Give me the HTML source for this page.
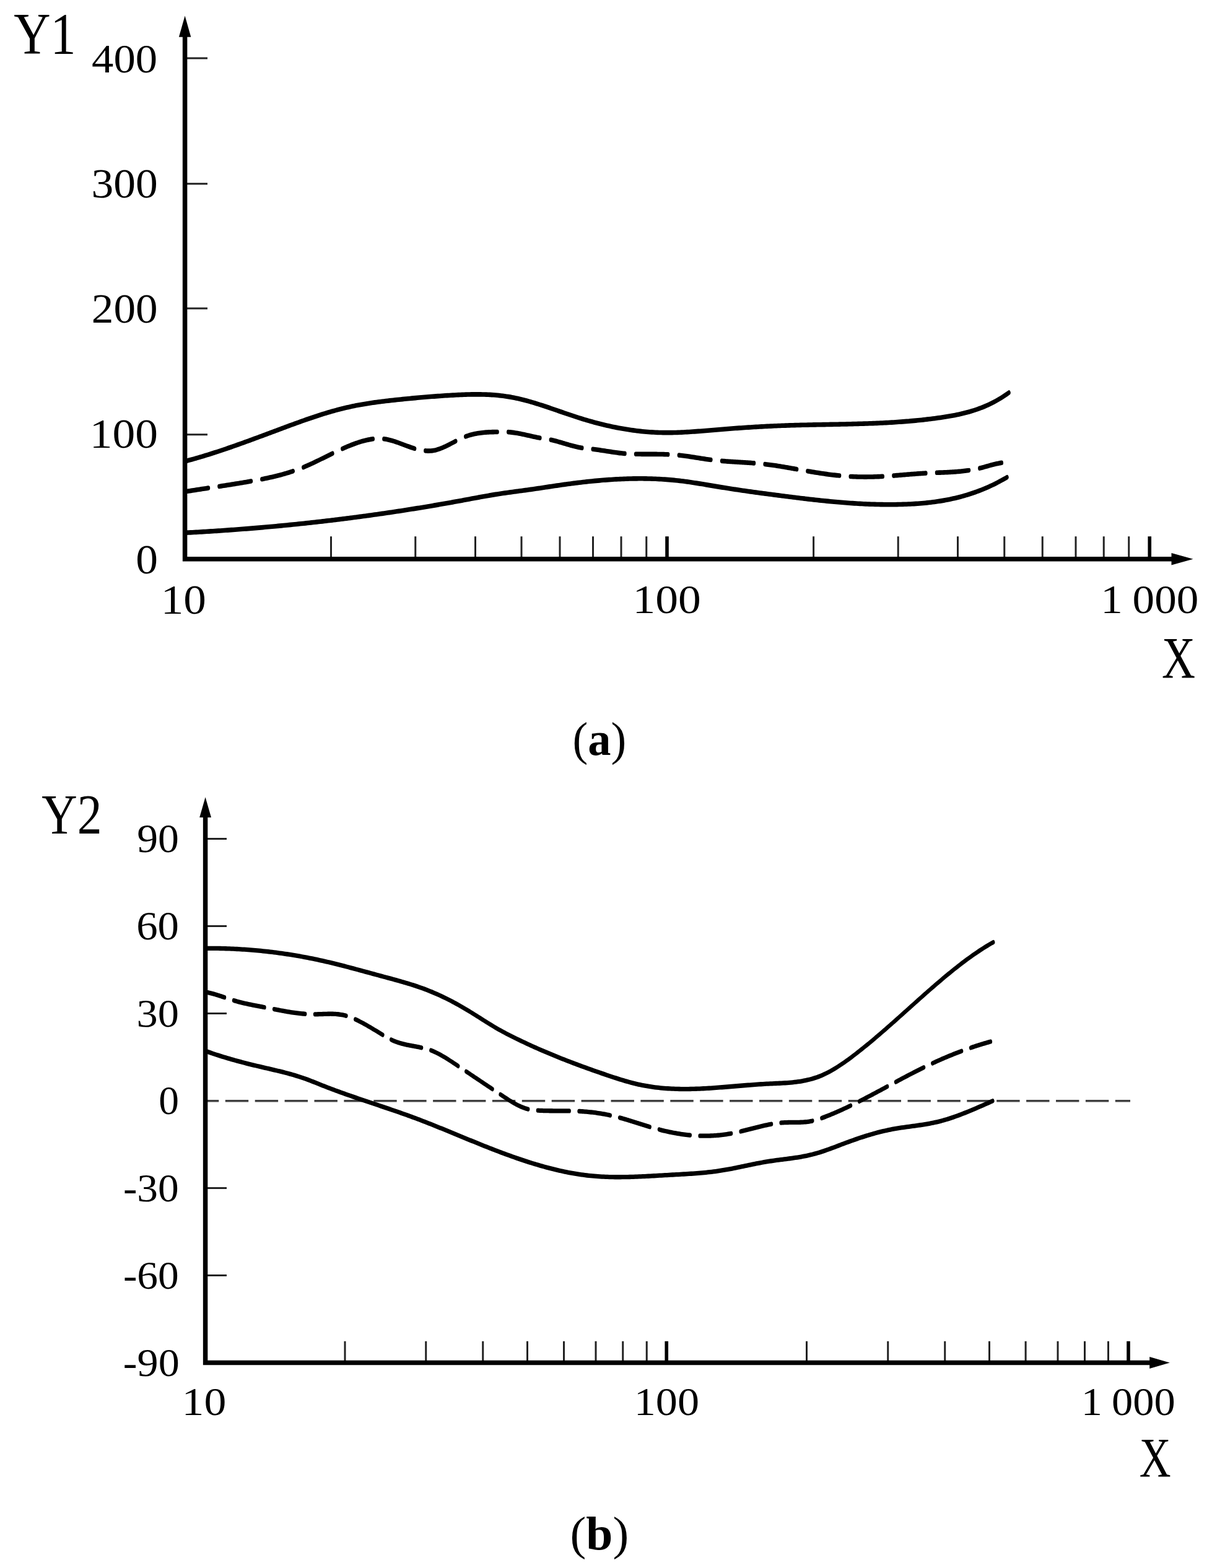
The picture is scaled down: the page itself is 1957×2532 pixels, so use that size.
<!DOCTYPE html>
<html lang="en"><head><meta charset="utf-8"><title>Figure: Y1 and Y2 versus X</title>
<style>html,body{margin:0;padding:0;background:#fff}body{width:1957px;height:2532px;overflow:hidden}svg{display:block}text{font-family:"Liberation Serif","DejaVu Serif",serif;fill:#000}</style></head><body>
<svg width="1957" height="2532" viewBox="0 0 1957 2532" role="img" aria-label="Two line charts, (a) Y1 versus X and (b) Y2 versus X, logarithmic X axis from 10 to 1 000">
<rect width="1957" height="2532" fill="#fff"/>
<defs><filter id="bl" x="-5%" y="-5%" width="110%" height="110%"><feGaussianBlur stdDeviation="0.70"/></filter></defs>
<g filter="url(#bl)">
<g id="chart-a">
<g stroke="#222" stroke-width="3.00" fill="none"><path d="M298.60,93.90 H335.00"/><path d="M298.60,296.75 H335.00"/><path d="M298.60,498.00 H335.00"/><path d="M298.60,701.75 H335.00"/><path d="M534.50,866.20 V902.70"/><path d="M670.75,866.20 V902.70"/><path d="M767.50,866.20 V902.70"/><path d="M842.00,866.20 V902.70"/><path d="M904.00,866.20 V902.70"/><path d="M957.50,866.20 V902.70"/><path d="M1003.00,866.20 V902.70"/><path d="M1043.75,866.20 V902.70"/><path stroke="#000" stroke-width="5.60" d="M1077.00,866.20 V902.70"/><path d="M1313.60,866.20 V902.70"/><path d="M1450.20,866.20 V902.70"/><path d="M1546.50,866.20 V902.70"/><path d="M1621.75,866.20 V902.70"/><path d="M1683.25,866.20 V902.70"/><path d="M1737.00,866.20 V902.70"/><path d="M1782.25,866.20 V902.70"/><path d="M1822.75,866.20 V902.70"/><path stroke="#000" stroke-width="5.60" d="M1856.25,866.20 V902.70"/></g>
<g transform="scale(1,1.400)" stroke="#000" fill="none" stroke-linecap="round" stroke-linejoin="round"><path d="M298.6,532.093 L301.6,531.530 L304.6,530.958 L307.6,530.376 L310.6,529.784 L313.6,529.183 L316.6,528.572 L319.6,527.953 L322.6,527.325 L325.6,526.688 L328.6,526.043 L331.6,525.390 L334.6,524.729 L337.6,524.060 L340.6,523.384 L343.6,522.701 L346.7,522.010 L349.7,521.313 L352.7,520.609 L355.7,519.899 L358.7,519.182 L361.7,518.460 L364.7,517.732 L367.7,516.998 L370.7,516.260 L373.7,515.516 L376.7,514.767 L379.7,514.013 L382.7,513.255 L385.7,512.493 L388.7,511.727 L391.7,510.957 L394.7,510.183 L397.7,509.406 L400.7,508.626 L403.7,507.843 L406.7,507.057 L409.7,506.269 L412.7,505.478 L415.7,504.686 L418.7,503.891 L421.7,503.095 L424.7,502.298 L427.7,501.499 L430.7,500.699 L433.7,499.898 L436.7,499.097 L439.7,498.296 L442.8,497.494 L445.8,496.692 L448.8,495.891 L451.8,495.090 L454.8,494.290 L457.8,493.492 L460.8,492.694 L463.8,491.899 L466.8,491.106 L469.8,490.316 L472.8,489.530 L475.8,488.747 L478.8,487.968 L481.8,487.193 L484.8,486.424 L487.8,485.660 L490.8,484.902 L493.8,484.150 L496.8,483.405 L499.8,482.667 L502.8,481.936 L505.8,481.213 L508.8,480.499 L511.8,479.794 L514.8,479.097 L517.8,478.411 L520.8,477.734 L523.8,477.068 L526.8,476.413 L529.8,475.769 L532.8,475.137 L535.8,474.518 L538.9,473.910 L541.9,473.316 L544.9,472.736 L547.9,472.169 L550.9,471.616 L553.9,471.079 L556.9,470.556 L559.9,470.049 L562.9,469.558 L565.9,469.084 L568.9,468.626 L571.9,468.183 L574.9,467.757 L577.9,467.345 L580.9,466.947 L583.9,466.563 L586.9,466.191 L589.9,465.833 L592.9,465.487 L595.9,465.152 L598.9,464.828 L601.9,464.514 L604.9,464.210 L607.9,463.915 L610.9,463.629 L613.9,463.351 L616.9,463.081 L619.9,462.818 L622.9,462.561 L625.9,462.310 L628.9,462.065 L632.0,461.824 L635.0,461.588 L638.0,461.355 L641.0,461.126 L644.0,460.899 L647.0,460.676 L650.0,460.455 L653.0,460.238 L656.0,460.023 L659.0,459.812 L662.0,459.604 L665.0,459.399 L668.0,459.197 L671.0,458.999 L674.0,458.803 L677.0,458.612 L680.0,458.423 L683.0,458.238 L686.0,458.057 L689.0,457.879 L692.0,457.704 L695.0,457.534 L698.0,457.367 L701.0,457.203 L704.0,457.043 L707.0,456.887 L710.0,456.735 L713.0,456.586 L716.0,456.442 L719.0,456.301 L722.0,456.165 L725.0,456.032 L728.1,455.903 L731.1,455.779 L734.1,455.659 L737.1,455.545 L740.1,455.438 L743.1,455.338 L746.1,455.245 L749.1,455.162 L752.1,455.087 L755.1,455.022 L758.1,454.968 L761.1,454.926 L764.1,454.896 L767.1,454.879 L770.1,454.875 L773.1,454.885 L776.1,454.911 L779.1,454.953 L782.1,455.010 L785.1,455.086 L788.1,455.179 L791.1,455.291 L794.1,455.422 L797.1,455.573 L800.1,455.745 L803.1,455.939 L806.1,456.155 L809.1,456.394 L812.1,456.656 L815.1,456.943 L818.1,457.256 L821.1,457.594 L824.2,457.959 L827.2,458.350 L830.2,458.769 L833.2,459.214 L836.2,459.683 L839.2,460.175 L842.2,460.690 L845.2,461.227 L848.2,461.784 L851.2,462.360 L854.2,462.955 L857.2,463.567 L860.2,464.195 L863.2,464.837 L866.2,465.494 L869.2,466.164 L872.2,466.846 L875.2,467.539 L878.2,468.241 L881.2,468.952 L884.2,469.671 L887.2,470.396 L890.2,471.127 L893.2,471.862 L896.2,472.601 L899.2,473.342 L902.2,474.084 L905.2,474.827 L908.2,475.568 L911.2,476.308 L914.2,477.044 L917.3,477.777 L920.3,478.504 L923.3,479.225 L926.3,479.939 L929.3,480.645 L932.3,481.341 L935.3,482.027 L938.3,482.701 L941.3,483.364 L944.3,484.015 L947.3,484.653 L950.3,485.279 L953.3,485.893 L956.3,486.495 L959.3,487.084 L962.3,487.660 L965.3,488.224 L968.3,488.775 L971.3,489.313 L974.3,489.837 L977.3,490.348 L980.3,490.847 L983.3,491.331 L986.3,491.802 L989.3,492.259 L992.3,492.703 L995.3,493.132 L998.3,493.548 L1001.3,493.949 L1004.3,494.336 L1007.3,494.709 L1010.3,495.067 L1013.4,495.410 L1016.4,495.739 L1019.4,496.053 L1022.4,496.352 L1025.4,496.636 L1028.4,496.905 L1031.4,497.158 L1034.4,497.396 L1037.4,497.618 L1040.4,497.825 L1043.4,498.016 L1046.4,498.191 L1049.4,498.350 L1052.4,498.493 L1055.4,498.620 L1058.4,498.730 L1061.4,498.824 L1064.4,498.901 L1067.4,498.962 L1070.4,499.005 L1073.4,499.033 L1076.4,499.045 L1079.4,499.041 L1082.4,499.023 L1085.4,498.991 L1088.4,498.946 L1091.4,498.889 L1094.4,498.819 L1097.4,498.738 L1100.4,498.646 L1103.4,498.544 L1106.5,498.432 L1109.5,498.311 L1112.5,498.182 L1115.5,498.046 L1118.5,497.902 L1121.5,497.752 L1124.5,497.595 L1127.5,497.434 L1130.5,497.268 L1133.5,497.098 L1136.5,496.925 L1139.5,496.748 L1142.5,496.570 L1145.5,496.390 L1148.5,496.209 L1151.5,496.028 L1154.5,495.847 L1157.5,495.667 L1160.5,495.489 L1163.5,495.312 L1166.5,495.138 L1169.5,494.966 L1172.5,494.796 L1175.5,494.628 L1178.5,494.462 L1181.5,494.299 L1184.5,494.138 L1187.5,493.980 L1190.5,493.824 L1193.5,493.671 L1196.5,493.520 L1199.5,493.371 L1202.6,493.226 L1205.6,493.083 L1208.6,492.943 L1211.6,492.806 L1214.6,492.671 L1217.6,492.539 L1220.6,492.411 L1223.6,492.285 L1226.6,492.162 L1229.6,492.043 L1232.6,491.926 L1235.6,491.813 L1238.6,491.703 L1241.6,491.596 L1244.6,491.492 L1247.6,491.392 L1250.6,491.295 L1253.6,491.202 L1256.6,491.112 L1259.6,491.025 L1262.6,490.943 L1265.6,490.863 L1268.6,490.787 L1271.6,490.714 L1274.6,490.644 L1277.6,490.577 L1280.6,490.513 L1283.6,490.451 L1286.6,490.392 L1289.6,490.335 L1292.6,490.280 L1295.6,490.227 L1298.7,490.177 L1301.7,490.127 L1304.7,490.080 L1307.7,490.034 L1310.7,489.989 L1313.7,489.945 L1316.7,489.902 L1319.7,489.860 L1322.7,489.819 L1325.7,489.778 L1328.7,489.738 L1331.7,489.698 L1334.7,489.658 L1337.7,489.618 L1340.7,489.578 L1343.7,489.538 L1346.7,489.497 L1349.7,489.456 L1352.7,489.414 L1355.7,489.371 L1358.7,489.327 L1361.7,489.282 L1364.7,489.235 L1367.7,489.187 L1370.7,489.137 L1373.7,489.086 L1376.7,489.033 L1379.7,488.978 L1382.7,488.920 L1385.7,488.860 L1388.7,488.798 L1391.8,488.733 L1394.8,488.665 L1397.8,488.595 L1400.8,488.521 L1403.8,488.444 L1406.8,488.364 L1409.8,488.281 L1412.8,488.193 L1415.8,488.102 L1418.8,488.007 L1421.8,487.908 L1424.8,487.805 L1427.8,487.697 L1430.8,487.585 L1433.8,487.468 L1436.8,487.347 L1439.8,487.220 L1442.8,487.088 L1445.8,486.952 L1448.8,486.809 L1451.8,486.662 L1454.8,486.508 L1457.8,486.349 L1460.8,486.184 L1463.8,486.013 L1466.8,485.835 L1469.8,485.651 L1472.8,485.461 L1475.8,485.264 L1478.8,485.060 L1481.8,484.849 L1484.8,484.631 L1487.9,484.406 L1490.9,484.173 L1493.9,483.933 L1496.9,483.685 L1499.9,483.430 L1502.9,483.166 L1505.9,482.894 L1508.9,482.614 L1511.9,482.326 L1514.9,482.029 L1517.9,481.723 L1520.9,481.409 L1523.9,481.085 L1526.9,480.750 L1529.9,480.403 L1532.9,480.042 L1535.9,479.667 L1538.9,479.275 L1541.9,478.865 L1544.9,478.436 L1547.9,477.987 L1550.9,477.515 L1553.9,477.020 L1556.9,476.500 L1559.9,475.954 L1562.9,475.380 L1565.9,474.777 L1568.9,474.144 L1571.9,473.478 L1574.9,472.780 L1577.9,472.046 L1580.9,471.277 L1584.0,470.470 L1587.0,469.624 L1590.0,468.738 L1593.0,467.810 L1596.0,466.839 L1599.0,465.823 L1602.0,464.761 L1605.0,463.652 L1608.0,462.495 L1611.0,461.287 L1614.0,460.027 L1617.0,458.715 L1620.0,457.349 L1623.0,455.927 L1626.0,454.448 L1629.0,452.911" stroke-width="5.429"/><path d="M298.5,614.520 L301.5,614.409 L304.5,614.295 L307.5,614.180 L310.5,614.064 L313.5,613.945 L316.5,613.825 L319.5,613.702 L322.5,613.578 L325.5,613.452 L328.5,613.325 L331.5,613.195 L334.5,613.064 L337.5,612.931 L340.5,612.796 L343.6,612.660 L346.6,612.521 L349.6,612.381 L352.6,612.239 L355.6,612.095 L358.6,611.949 L361.6,611.801 L364.6,611.652 L367.6,611.501 L370.6,611.348 L373.6,611.193 L376.6,611.036 L379.6,610.878 L382.6,610.717 L385.6,610.555 L388.6,610.391 L391.6,610.225 L394.6,610.057 L397.6,609.888 L400.6,609.716 L403.6,609.543 L406.6,609.368 L409.6,609.191 L412.6,609.012 L415.6,608.831 L418.6,608.649 L421.6,608.464 L424.6,608.278 L427.6,608.090 L430.6,607.900 L433.7,607.708 L436.7,607.515 L439.7,607.319 L442.7,607.122 L445.7,606.922 L448.7,606.721 L451.7,606.518 L454.7,606.313 L457.7,606.106 L460.7,605.898 L463.7,605.687 L466.7,605.475 L469.7,605.260 L472.7,605.044 L475.7,604.826 L478.7,604.606 L481.7,604.384 L484.7,604.160 L487.7,603.935 L490.7,603.707 L493.7,603.478 L496.7,603.246 L499.7,603.013 L502.7,602.778 L505.7,602.541 L508.7,602.302 L511.7,602.061 L514.7,601.818 L517.7,601.573 L520.8,601.327 L523.8,601.078 L526.8,600.828 L529.8,600.575 L532.8,600.321 L535.8,600.065 L538.8,599.807 L541.8,599.547 L544.8,599.285 L547.8,599.021 L550.8,598.755 L553.8,598.487 L556.8,598.217 L559.8,597.946 L562.8,597.672 L565.8,597.397 L568.8,597.119 L571.8,596.840 L574.8,596.558 L577.8,596.275 L580.8,595.990 L583.8,595.703 L586.8,595.413 L589.8,595.122 L592.8,594.829 L595.8,594.534 L598.8,594.237 L601.8,593.938 L604.8,593.637 L607.8,593.334 L610.9,593.030 L613.9,592.723 L616.9,592.414 L619.9,592.103 L622.9,591.790 L625.9,591.476 L628.9,591.159 L631.9,590.840 L634.9,590.520 L637.9,590.197 L640.9,589.873 L643.9,589.546 L646.9,589.217 L649.9,588.887 L652.9,588.554 L655.9,588.220 L658.9,587.883 L661.9,587.545 L664.9,587.204 L667.9,586.862 L670.9,586.517 L673.9,586.171 L676.9,585.822 L679.9,585.472 L682.9,585.119 L685.9,584.765 L688.9,584.408 L691.9,584.049 L694.9,583.689 L698.0,583.326 L701.0,582.962 L704.0,582.595 L707.0,582.226 L710.0,581.856 L713.0,581.483 L716.0,581.108 L719.0,580.731 L722.0,580.353 L725.0,579.972 L728.0,579.589 L731.0,579.204 L734.0,578.817 L737.0,578.428 L740.0,578.037 L743.0,577.644 L746.0,577.249 L749.0,576.852 L752.0,576.453 L755.0,576.052 L758.0,575.650 L761.0,575.248 L764.0,574.847 L767.0,574.446 L770.0,574.047 L773.0,573.650 L776.0,573.256 L779.0,572.865 L782.0,572.479 L785.0,572.097 L788.1,571.721 L791.1,571.351 L794.1,570.987 L797.1,570.631 L800.1,570.284 L803.1,569.944 L806.1,569.613 L809.1,569.288 L812.1,568.971 L815.1,568.659 L818.1,568.352 L821.1,568.050 L824.1,567.752 L827.1,567.458 L830.1,567.165 L833.1,566.875 L836.1,566.586 L839.1,566.297 L842.1,566.008 L845.1,565.718 L848.1,565.427 L851.1,565.133 L854.1,564.837 L857.1,564.537 L860.1,564.233 L863.1,563.924 L866.1,563.611 L869.1,563.294 L872.1,562.975 L875.2,562.653 L878.2,562.330 L881.2,562.006 L884.2,561.681 L887.2,561.357 L890.2,561.035 L893.2,560.713 L896.2,560.395 L899.2,560.079 L902.2,559.767 L905.2,559.459 L908.2,559.155 L911.2,558.856 L914.2,558.560 L917.2,558.270 L920.2,557.984 L923.2,557.703 L926.2,557.427 L929.2,557.156 L932.2,556.890 L935.2,556.630 L938.2,556.376 L941.2,556.127 L944.2,555.883 L947.2,555.646 L950.2,555.415 L953.2,555.191 L956.2,554.972 L959.2,554.760 L962.2,554.555 L965.3,554.357 L968.3,554.166 L971.3,553.982 L974.3,553.805 L977.3,553.635 L980.3,553.473 L983.3,553.319 L986.3,553.172 L989.3,553.034 L992.3,552.903 L995.3,552.781 L998.3,552.667 L1001.3,552.562 L1004.3,552.465 L1007.3,552.377 L1010.3,552.298 L1013.3,552.229 L1016.3,552.168 L1019.3,552.117 L1022.3,552.075 L1025.3,552.043 L1028.3,552.021 L1031.3,552.009 L1034.3,552.006 L1037.3,552.014 L1040.3,552.033 L1043.3,552.062 L1046.3,552.101 L1049.3,552.152 L1052.4,552.213 L1055.4,552.285 L1058.4,552.369 L1061.4,552.464 L1064.4,552.570 L1067.4,552.688 L1070.4,552.818 L1073.4,552.959 L1076.4,553.113 L1079.4,553.279 L1082.4,553.458 L1085.4,553.648 L1088.4,553.852 L1091.4,554.068 L1094.4,554.297 L1097.4,554.539 L1100.4,554.795 L1103.4,555.063 L1106.4,555.344 L1109.4,555.636 L1112.4,555.939 L1115.4,556.252 L1118.4,556.573 L1121.4,556.903 L1124.4,557.239 L1127.4,557.582 L1130.4,557.931 L1133.4,558.284 L1136.4,558.641 L1139.5,559.000 L1142.5,559.362 L1145.5,559.725 L1148.5,560.088 L1151.5,560.450 L1154.5,560.811 L1157.5,561.170 L1160.5,561.525 L1163.5,561.877 L1166.5,562.225 L1169.5,562.569 L1172.5,562.910 L1175.5,563.247 L1178.5,563.581 L1181.5,563.911 L1184.5,564.238 L1187.5,564.562 L1190.5,564.883 L1193.5,565.201 L1196.5,565.516 L1199.5,565.829 L1202.5,566.138 L1205.5,566.445 L1208.5,566.750 L1211.5,567.052 L1214.5,567.352 L1217.5,567.650 L1220.5,567.945 L1223.5,568.239 L1226.5,568.530 L1229.6,568.820 L1232.6,569.108 L1235.6,569.394 L1238.6,569.678 L1241.6,569.962 L1244.6,570.243 L1247.6,570.524 L1250.6,570.803 L1253.6,571.081 L1256.6,571.358 L1259.6,571.635 L1262.6,571.910 L1265.6,572.184 L1268.6,572.458 L1271.6,572.730 L1274.6,573.000 L1277.6,573.270 L1280.6,573.537 L1283.6,573.803 L1286.6,574.067 L1289.6,574.329 L1292.6,574.589 L1295.6,574.847 L1298.6,575.102 L1301.6,575.355 L1304.6,575.605 L1307.6,575.852 L1310.6,576.097 L1313.6,576.338 L1316.7,576.576 L1319.7,576.811 L1322.7,577.042 L1325.7,577.270 L1328.7,577.494 L1331.7,577.714 L1334.7,577.930 L1337.7,578.142 L1340.7,578.350 L1343.7,578.553 L1346.7,578.752 L1349.7,578.946 L1352.7,579.136 L1355.7,579.320 L1358.7,579.500 L1361.7,579.674 L1364.7,579.843 L1367.7,580.006 L1370.7,580.164 L1373.7,580.316 L1376.7,580.463 L1379.7,580.603 L1382.7,580.737 L1385.7,580.865 L1388.7,580.987 L1391.7,581.102 L1394.7,581.211 L1397.7,581.313 L1400.7,581.407 L1403.7,581.495 L1406.8,581.576 L1409.8,581.649 L1412.8,581.715 L1415.8,581.773 L1418.8,581.824 L1421.8,581.867 L1424.8,581.902 L1427.8,581.928 L1430.8,581.947 L1433.8,581.957 L1436.8,581.959 L1439.8,581.952 L1442.8,581.936 L1445.8,581.911 L1448.8,581.878 L1451.8,581.835 L1454.8,581.783 L1457.8,581.721 L1460.8,581.650 L1463.8,581.569 L1466.8,581.478 L1469.8,581.377 L1472.8,581.264 L1475.8,581.139 L1478.8,581.003 L1481.8,580.854 L1484.8,580.693 L1487.8,580.518 L1490.8,580.329 L1493.9,580.126 L1496.9,579.909 L1499.9,579.676 L1502.9,579.428 L1505.9,579.164 L1508.9,578.884 L1511.9,578.586 L1514.9,578.272 L1517.9,577.939 L1520.9,577.589 L1523.9,577.220 L1526.9,576.832 L1529.9,576.424 L1532.9,575.997 L1535.9,575.549 L1538.9,575.080 L1541.9,574.590 L1544.9,574.079 L1547.9,573.545 L1550.9,572.988 L1553.9,572.409 L1556.9,571.806 L1559.9,571.179 L1562.9,570.528 L1565.9,569.852 L1568.9,569.151 L1571.9,568.424 L1574.9,567.671 L1577.9,566.892 L1580.9,566.085 L1584.0,565.251 L1587.0,564.390 L1590.0,563.500 L1593.0,562.581 L1596.0,561.632 L1599.0,560.655 L1602.0,559.647 L1605.0,558.608 L1608.0,557.539 L1611.0,556.438 L1614.0,555.306 L1617.0,554.141 L1620.0,552.943 L1623.0,551.712 L1626.0,550.448" stroke-width="5.429"/><path d="M298.5,567.098 L300.5,566.870 L302.5,566.642 L304.5,566.416 L306.5,566.191 L308.5,565.966 L310.5,565.743 L312.5,565.521 L314.5,565.300 L316.5,565.079 L318.5,564.859 L320.5,564.640 L322.5,564.421 L324.5,564.203 L326.5,563.985 L328.5,563.767 L330.5,563.550 L332.5,563.333 L334.5,563.117 L336.5,562.900 L336.5,562.898 M353.9,561.009 L355.5,560.835 L357.5,560.616 L359.5,560.396 L361.5,560.175 L363.5,559.953 L365.5,559.731 L367.5,559.507 L369.5,559.283 L371.5,559.057 L373.5,558.830 L375.5,558.603 L377.5,558.374 L379.5,558.143 L381.6,557.911 L383.6,557.678 L385.6,557.443 L387.6,557.207 L389.6,556.969 L391.6,556.729 L393.6,556.487 L395.6,556.244 L397.6,555.998 L399.6,555.751 L401.6,555.501 L403.6,555.250 L405.5,555.008 M422.8,552.698 L424.6,552.440 L426.6,552.150 L428.6,551.856 L430.6,551.556 L432.6,551.250 L434.6,550.939 L436.6,550.622 L438.6,550.298 L440.6,549.968 L442.6,549.631 L444.6,549.286 L446.6,548.935 L448.6,548.575 L450.6,548.207 L452.6,547.831 L454.6,547.447 L456.6,547.053 L458.6,546.651 L460.6,546.239 L462.6,545.817 L464.6,545.386 L466.6,544.944 L468.6,544.491 L470.6,544.028 L472.6,543.554 L473.3,543.392 M489.8,538.993 L491.6,538.442 L493.6,537.836 L495.6,537.219 L497.6,536.590 L499.6,535.950 L501.6,535.301 L503.6,534.642 L505.6,533.976 L507.6,533.301 L509.6,532.620 L511.6,531.933 L513.6,531.240 L515.6,530.543 L517.6,529.841 L519.6,529.136 L521.6,528.429 L523.6,527.720 L525.6,527.009 L527.6,526.299 L529.6,525.588 L531.6,524.879 L533.6,524.172 L535.6,523.467 L536.9,523.021 M552.8,517.628 L554.7,517.035 L556.7,516.400 L558.7,515.776 L560.7,515.164 L562.7,514.564 L564.7,513.977 L566.7,513.404 L568.7,512.845 L570.7,512.302 L572.7,511.774 L574.7,511.263 L576.7,510.770 L578.7,510.294 L580.7,509.838 L582.7,509.401 L584.7,508.984 L586.7,508.588 L588.7,508.214 L590.7,507.862 L592.7,507.534 L594.7,507.229 L596.7,506.949 L598.7,506.695 L600.7,506.466 L602.3,506.297 M619.9,506.213 L621.7,506.404 L623.7,506.656 L625.7,506.946 L627.7,507.270 L629.7,507.627 L631.7,508.013 L633.7,508.426 L635.7,508.864 L637.7,509.323 L639.7,509.801 L641.7,510.295 L643.7,510.803 L645.7,511.321 L647.7,511.848 L649.7,512.380 L651.7,512.915 L653.7,513.450 L655.7,513.983 L657.7,514.510 L659.7,515.030 L661.7,515.539 L663.7,516.034 L665.7,516.514 L667.7,516.975 L669.6,517.386 M686.8,519.915 L688.7,520.014 L690.7,520.068 L692.7,520.069 L694.7,520.016 L696.7,519.905 L698.7,519.734 L700.7,519.500 L702.7,519.204 L704.7,518.848 L706.7,518.438 L708.7,517.976 L710.8,517.468 L712.8,516.917 L714.8,516.328 L716.8,515.704 L718.8,515.050 L720.8,514.369 L722.8,513.667 L724.8,512.946 L726.8,512.211 L728.8,511.465 L730.8,510.714 L732.8,509.962 L734.8,509.211 L735.8,508.841 M751.7,503.521 L752.8,503.229 L754.8,502.720 L756.8,502.247 L758.8,501.810 L760.8,501.406 L762.8,501.035 L764.8,500.695 L766.8,500.385 L768.8,500.102 L770.8,499.847 L772.8,499.616 L774.8,499.409 L776.8,499.225 L778.8,499.061 L780.8,498.918 L782.8,498.792 L784.8,498.682 L786.8,498.588 L788.8,498.508 L790.8,498.440 L792.8,498.382 L794.8,498.335 L796.8,498.295 L798.8,498.262 L800.8,498.234 L802.8,498.209 L803.1,498.206 M820.7,498.326 L821.8,498.384 L823.8,498.506 L825.8,498.652 L827.8,498.822 L829.8,499.013 L831.8,499.223 L833.8,499.452 L835.8,499.698 L837.8,499.958 L839.8,500.232 L841.8,500.518 L843.8,500.814 L845.8,501.118 L847.8,501.429 L849.8,501.746 L851.8,502.067 L853.8,502.390 L855.8,502.713 L857.8,503.036 L859.8,503.356 L861.8,503.672 L863.8,503.981 L865.8,504.284 L867.8,504.578 L869.8,504.861 L871.8,505.132 L871.9,505.142 M889.3,507.330 L890.9,507.574 L892.9,507.898 L894.9,508.242 L896.9,508.602 L898.9,508.977 L900.9,509.365 L902.9,509.764 L904.9,510.172 L906.9,510.587 L908.9,511.007 L910.9,511.430 L912.9,511.854 L914.9,512.278 L916.9,512.698 L918.9,513.113 L920.9,513.522 L922.9,513.922 L924.9,514.310 L926.9,514.687 L928.9,515.048 L930.9,515.392 L932.9,515.718 L934.9,516.024 L936.9,516.306 L938.9,516.564 L939.8,516.668 M957.2,518.096 L958.9,518.232 L960.9,518.407 L962.9,518.591 L964.9,518.784 L966.9,518.984 L968.9,519.191 L970.9,519.403 L972.9,519.620 L974.9,519.840 L976.9,520.063 L978.9,520.288 L980.9,520.512 L982.9,520.737 L984.9,520.960 L986.9,521.180 L988.9,521.397 L990.9,521.609 L992.9,521.815 L994.9,522.015 L996.9,522.208 L998.9,522.391 L1000.9,522.566 L1002.9,522.729 L1004.9,522.881 L1006.9,523.021 L1008.9,523.146 L1009.0,523.148 M1026.5,523.724 L1027.9,523.743 L1029.9,523.766 L1031.9,523.785 L1033.9,523.800 L1035.9,523.812 L1037.9,523.821 L1039.9,523.828 L1042.0,523.833 L1044.0,523.836 L1046.0,523.839 L1048.0,523.842 L1050.0,523.844 L1052.0,523.847 L1054.0,523.851 L1056.0,523.857 L1058.0,523.864 L1060.0,523.875 L1062.0,523.888 L1064.0,523.905 L1066.0,523.925 L1068.0,523.950 L1070.0,523.981 L1072.0,524.016 L1074.0,524.058 L1076.0,524.106 L1078.0,524.161 L1078.7,524.184 M1096.3,525.068 L1098.0,525.196 L1100.0,525.356 L1102.0,525.526 L1104.0,525.705 L1106.0,525.892 L1108.0,526.087 L1110.0,526.288 L1112.0,526.495 L1114.0,526.707 L1116.0,526.923 L1118.0,527.143 L1120.0,527.366 L1122.0,527.591 L1124.0,527.818 L1126.0,528.045 L1128.0,528.272 L1130.0,528.498 L1132.0,528.722 L1134.0,528.944 L1136.0,529.163 L1138.0,529.378 L1140.0,529.588 L1142.0,529.793 L1144.0,529.992 L1146.0,530.184 L1147.9,530.362 M1165.5,531.666 L1167.0,531.761 L1169.0,531.878 L1171.0,531.990 L1173.0,532.098 L1175.0,532.202 L1177.0,532.303 L1179.0,532.402 L1181.0,532.497 L1183.0,532.590 L1185.0,532.682 L1187.0,532.772 L1189.0,532.861 L1191.0,532.948 L1193.0,533.036 L1195.0,533.123 L1197.0,533.211 L1199.0,533.299 L1201.0,533.389 L1203.0,533.479 L1205.0,533.572 L1207.1,533.666 L1209.1,533.763 L1211.1,533.862 L1213.1,533.965 L1215.1,534.071 L1217.1,534.182 L1217.5,534.208 M1235.1,535.403 L1236.1,535.488 L1238.1,535.659 L1240.1,535.837 L1242.1,536.021 L1244.1,536.211 L1246.1,536.407 L1248.1,536.609 L1250.1,536.816 L1252.1,537.028 L1254.1,537.245 L1256.1,537.466 L1258.1,537.691 L1260.1,537.920 L1262.1,538.153 L1264.1,538.390 L1266.1,538.629 L1268.1,538.872 L1270.1,539.116 L1272.1,539.364 L1274.1,539.613 L1276.1,539.864 L1278.1,540.117 L1280.1,540.371 L1282.1,540.626 L1284.1,540.881 L1286.1,541.137 L1286.6,541.202 M1303.9,543.396 L1305.1,543.540 L1307.1,543.785 L1309.1,544.027 L1311.1,544.267 L1313.1,544.504 L1315.1,544.738 L1317.1,544.969 L1319.1,545.197 L1321.1,545.422 L1323.1,545.643 L1325.1,545.860 L1327.1,546.074 L1329.1,546.284 L1331.1,546.490 L1333.1,546.691 L1335.1,546.888 L1337.1,547.081 L1339.1,547.268 L1341.1,547.451 L1343.1,547.629 L1345.1,547.802 L1347.1,547.969 L1349.1,548.131 L1351.1,548.288 L1353.1,548.438 L1355.1,548.583 L1355.6,548.616 M1373.2,549.592 L1375.2,549.669 L1377.2,549.739 L1379.2,549.802 L1381.2,549.857 L1383.2,549.906 L1385.2,549.948 L1387.2,549.983 L1389.2,550.011 L1391.2,550.033 L1393.2,550.048 L1395.2,550.057 L1397.2,550.060 L1399.2,550.056 L1401.2,550.046 L1403.2,550.030 L1405.2,550.009 L1407.2,549.981 L1409.2,549.948 L1411.2,549.909 L1413.2,549.864 L1415.2,549.814 L1417.2,549.759 L1419.2,549.698 L1421.2,549.632 L1423.2,549.561 L1425.2,549.485 L1425.3,549.480 M1442.9,548.631 L1444.2,548.558 L1446.2,548.444 L1448.2,548.329 L1450.2,548.212 L1452.2,548.093 L1454.2,547.974 L1456.2,547.853 L1458.2,547.732 L1460.2,547.611 L1462.2,547.490 L1464.2,547.369 L1466.2,547.249 L1468.2,547.130 L1470.2,547.012 L1472.2,546.895 L1474.2,546.780 L1476.2,546.668 L1478.2,546.557 L1480.2,546.449 L1482.2,546.345 L1484.2,546.243 L1486.2,546.145 L1488.2,546.050 L1490.2,545.960 L1492.2,545.874 L1494.2,545.793 L1494.9,545.765 M1512.5,545.222 L1514.2,545.177 L1516.2,545.124 L1518.2,545.071 L1520.2,545.016 L1522.2,544.960 L1524.2,544.902 L1526.2,544.842 L1528.2,544.778 L1530.2,544.711 L1532.2,544.639 L1534.2,544.563 L1536.3,544.482 L1538.3,544.395 L1540.3,544.301 L1542.3,544.201 L1544.3,544.094 L1546.3,543.979 L1548.3,543.856 L1550.3,543.723 L1552.3,543.582 L1554.3,543.430 L1556.3,543.268 L1558.3,543.096 L1560.3,542.911 L1562.3,542.715 L1564.3,542.507 L1564.5,542.477 M1581.8,540.063 L1583.3,539.803 L1585.3,539.435 L1587.3,539.054 L1589.3,538.663 L1591.3,538.266 L1593.3,537.865 L1595.3,537.463 L1597.3,537.063 L1599.3,536.667 L1601.3,536.280 L1603.3,535.903 L1605.3,535.540 L1607.3,535.193 L1609.3,534.865 L1611.3,534.560 L1613.3,534.280 L1615.3,534.027 L1617.3,533.806" stroke-width="5.429"/></g>
<path d="M298.60,58.80 V902.70 H1892.50" stroke="#000" stroke-width="7.50" fill="none" stroke-linejoin="miter"/>
<path d="M298.60,25.60 L288.90,59.80 L308.30,59.80 Z" fill="#000"/>
<path d="M1926.50,902.70 L1891.50,893.00 L1891.50,912.40 Z" fill="#000"/>
</g>
<g id="chart-b">
<g stroke="#222" stroke-width="3.00" fill="none"><path d="M331.60,1354.50 H366.00"/><path d="M331.60,1495.50 H366.00"/><path d="M331.60,1636.40 H366.00"/><path d="M331.60,1918.60 H366.00"/><path d="M331.60,2059.50 H366.00"/><path d="M557.00,2165.80 V2200.50"/><path d="M687.75,2165.80 V2200.50"/><path d="M779.75,2165.80 V2200.50"/><path d="M851.50,2165.80 V2200.50"/><path d="M910.50,2165.80 V2200.50"/><path d="M962.00,2165.80 V2200.50"/><path d="M1005.75,2165.80 V2200.50"/><path d="M1044.25,2165.80 V2200.50"/><path stroke="#000" stroke-width="5.60" d="M1076.25,2165.80 V2200.50"/><path d="M1302.50,2165.80 V2200.50"/><path d="M1433.75,2165.80 V2200.50"/><path d="M1525.75,2165.80 V2200.50"/><path d="M1597.50,2165.80 V2200.50"/><path d="M1656.10,2165.80 V2200.50"/><path d="M1708.00,2165.80 V2200.50"/><path d="M1751.50,2165.80 V2200.50"/><path d="M1789.50,2165.80 V2200.50"/><path stroke="#000" stroke-width="5.60" d="M1822.00,2165.80 V2200.50"/></g>
<path d="M331.60,1777.80 H1825.00" stroke="#404040" stroke-width="3.60" stroke-dasharray="37.4 10.5" stroke-dashoffset="15.70" fill="none"/>
<g transform="scale(1,1.400)" stroke="#000" fill="none" stroke-linecap="round" stroke-linejoin="round"><path d="M331.5,1093.828 L334.5,1093.817 L337.5,1093.812 L340.5,1093.815 L343.5,1093.826 L346.5,1093.844 L349.5,1093.869 L352.5,1093.902 L355.5,1093.943 L358.5,1093.991 L361.5,1094.047 L364.5,1094.110 L367.5,1094.181 L370.5,1094.259 L373.5,1094.345 L376.5,1094.439 L379.5,1094.541 L382.5,1094.650 L385.5,1094.766 L388.5,1094.891 L391.5,1095.023 L394.5,1095.162 L397.5,1095.310 L400.5,1095.465 L403.5,1095.628 L406.5,1095.799 L409.5,1095.977 L412.5,1096.164 L415.5,1096.358 L418.5,1096.560 L421.5,1096.770 L424.5,1096.987 L427.5,1097.213 L430.5,1097.446 L433.5,1097.687 L436.5,1097.936 L439.5,1098.193 L442.5,1098.458 L445.5,1098.731 L448.5,1099.012 L451.5,1099.301 L454.5,1099.598 L457.5,1099.903 L460.5,1100.216 L463.5,1100.536 L466.5,1100.865 L469.5,1101.202 L472.5,1101.547 L475.5,1101.900 L478.5,1102.262 L481.5,1102.631 L484.5,1103.008 L487.5,1103.394 L490.5,1103.788 L493.5,1104.189 L496.5,1104.599 L499.5,1105.018 L502.5,1105.444 L505.5,1105.879 L508.5,1106.321 L511.5,1106.773 L514.5,1107.232 L517.5,1107.699 L520.5,1108.175 L523.5,1108.659 L526.5,1109.152 L529.5,1109.651 L532.5,1110.158 L535.5,1110.672 L538.5,1111.192 L541.5,1111.719 L544.5,1112.252 L547.5,1112.790 L550.5,1113.334 L553.5,1113.883 L556.5,1114.437 L559.5,1114.995 L562.5,1115.557 L565.5,1116.122 L568.5,1116.692 L571.5,1117.264 L574.5,1117.839 L577.5,1118.417 L580.5,1118.997 L583.5,1119.578 L586.6,1120.161 L589.6,1120.746 L592.6,1121.331 L595.6,1121.917 L598.6,1122.503 L601.6,1123.088 L604.6,1123.674 L607.6,1124.259 L610.6,1124.842 L613.6,1125.425 L616.6,1126.005 L619.6,1126.584 L622.6,1127.162 L625.6,1127.739 L628.6,1128.318 L631.6,1128.898 L634.6,1129.481 L637.6,1130.068 L640.6,1130.660 L643.6,1131.258 L646.6,1131.862 L649.6,1132.475 L652.6,1133.097 L655.6,1133.729 L658.6,1134.372 L661.6,1135.027 L664.6,1135.695 L667.6,1136.377 L670.6,1137.074 L673.6,1137.788 L676.6,1138.518 L679.6,1139.267 L682.6,1140.035 L685.6,1140.823 L688.6,1141.632 L691.6,1142.464 L694.6,1143.319 L697.6,1144.197 L700.6,1145.099 L703.6,1146.024 L706.6,1146.972 L709.6,1147.943 L712.6,1148.936 L715.6,1149.952 L718.6,1150.989 L721.6,1152.048 L724.6,1153.129 L727.6,1154.231 L730.6,1155.354 L733.6,1156.498 L736.6,1157.662 L739.6,1158.847 L742.6,1160.052 L745.6,1161.277 L748.6,1162.521 L751.6,1163.785 L754.6,1165.068 L757.6,1166.370 L760.6,1167.688 L763.6,1169.020 L766.6,1170.363 L769.6,1171.714 L772.6,1173.070 L775.6,1174.428 L778.6,1175.786 L781.6,1177.141 L784.6,1178.490 L787.6,1179.829 L790.6,1181.157 L793.6,1182.471 L796.6,1183.767 L799.6,1185.043 L802.6,1186.295 L805.6,1187.522 L808.6,1188.722 L811.6,1189.896 L814.6,1191.047 L817.6,1192.177 L820.6,1193.288 L823.6,1194.382 L826.6,1195.462 L829.6,1196.529 L832.6,1197.587 L835.6,1198.634 L838.6,1199.672 L841.6,1200.700 L844.6,1201.719 L847.6,1202.728 L850.6,1203.729 L853.6,1204.721 L856.6,1205.703 L859.6,1206.677 L862.6,1207.643 L865.6,1208.600 L868.6,1209.549 L871.6,1210.489 L874.6,1211.422 L877.6,1212.346 L880.6,1213.263 L883.6,1214.172 L886.6,1215.073 L889.6,1215.967 L892.6,1216.853 L895.6,1217.733 L898.6,1218.605 L901.6,1219.470 L904.6,1220.329 L907.6,1221.181 L910.6,1222.026 L913.6,1222.865 L916.6,1223.698 L919.6,1224.524 L922.6,1225.344 L925.6,1226.159 L928.6,1226.967 L931.6,1227.770 L934.6,1228.567 L937.6,1229.359 L940.6,1230.146 L943.6,1230.928 L946.6,1231.704 L949.6,1232.475 L952.6,1233.242 L955.6,1234.004 L958.6,1234.762 L961.6,1235.515 L964.6,1236.264 L967.6,1237.008 L970.6,1237.749 L973.6,1238.486 L976.6,1239.219 L979.6,1239.948 L982.6,1240.674 L985.6,1241.395 L988.6,1242.110 L991.6,1242.817 L994.6,1243.516 L997.6,1244.206 L1000.6,1244.884 L1003.6,1245.549 L1006.6,1246.201 L1009.6,1246.837 L1012.6,1247.457 L1015.6,1248.059 L1018.6,1248.642 L1021.6,1249.204 L1024.6,1249.745 L1027.6,1250.263 L1030.6,1250.756 L1033.6,1251.224 L1036.6,1251.667 L1039.6,1252.086 L1042.6,1252.481 L1045.6,1252.853 L1048.6,1253.202 L1051.6,1253.528 L1054.6,1253.833 L1057.6,1254.116 L1060.6,1254.378 L1063.6,1254.619 L1066.6,1254.841 L1069.6,1255.043 L1072.6,1255.226 L1075.6,1255.390 L1078.6,1255.537 L1081.6,1255.666 L1084.6,1255.777 L1087.6,1255.872 L1090.6,1255.951 L1093.6,1256.015 L1096.7,1256.063 L1099.7,1256.097 L1102.7,1256.116 L1105.7,1256.122 L1108.7,1256.114 L1111.7,1256.094 L1114.7,1256.061 L1117.7,1256.017 L1120.7,1255.961 L1123.7,1255.895 L1126.7,1255.818 L1129.7,1255.732 L1132.7,1255.636 L1135.7,1255.531 L1138.7,1255.418 L1141.7,1255.297 L1144.7,1255.168 L1147.7,1255.033 L1150.7,1254.891 L1153.7,1254.743 L1156.7,1254.590 L1159.7,1254.432 L1162.7,1254.269 L1165.7,1254.102 L1168.7,1253.932 L1171.7,1253.758 L1174.7,1253.582 L1177.7,1253.404 L1180.7,1253.225 L1183.7,1253.044 L1186.7,1252.862 L1189.7,1252.681 L1192.7,1252.500 L1195.7,1252.319 L1198.7,1252.140 L1201.7,1251.962 L1204.7,1251.787 L1207.7,1251.615 L1210.7,1251.446 L1213.7,1251.280 L1216.7,1251.119 L1219.7,1250.962 L1222.7,1250.811 L1225.7,1250.665 L1228.7,1250.526 L1231.7,1250.393 L1234.7,1250.267 L1237.7,1250.148 L1240.7,1250.038 L1243.7,1249.936 L1246.7,1249.838 L1249.7,1249.744 L1252.7,1249.650 L1255.7,1249.554 L1258.7,1249.453 L1261.7,1249.346 L1264.7,1249.228 L1267.7,1249.099 L1270.7,1248.955 L1273.7,1248.793 L1276.7,1248.613 L1279.7,1248.410 L1282.7,1248.182 L1285.7,1247.928 L1288.7,1247.644 L1291.7,1247.328 L1294.7,1246.977 L1297.7,1246.589 L1300.7,1246.162 L1303.7,1245.692 L1306.7,1245.178 L1309.7,1244.617 L1312.7,1244.006 L1315.7,1243.344 L1318.7,1242.626 L1321.7,1241.852 L1324.7,1241.018 L1327.7,1240.122 L1330.7,1239.163 L1333.7,1238.142 L1336.7,1237.062 L1339.7,1235.926 L1342.7,1234.737 L1345.7,1233.496 L1348.7,1232.208 L1351.7,1230.873 L1354.7,1229.496 L1357.7,1228.079 L1360.7,1226.624 L1363.7,1225.134 L1366.7,1223.612 L1369.7,1222.060 L1372.7,1220.482 L1375.7,1218.879 L1378.7,1217.254 L1381.7,1215.610 L1384.7,1213.947 L1387.7,1212.265 L1390.7,1210.566 L1393.7,1208.849 L1396.7,1207.116 L1399.7,1205.368 L1402.7,1203.605 L1405.7,1201.827 L1408.7,1200.036 L1411.7,1198.231 L1414.7,1196.415 L1417.7,1194.587 L1420.7,1192.748 L1423.7,1190.898 L1426.7,1189.039 L1429.7,1187.172 L1432.7,1185.296 L1435.7,1183.412 L1438.7,1181.522 L1441.7,1179.625 L1444.7,1177.723 L1447.7,1175.816 L1450.7,1173.905 L1453.7,1171.991 L1456.7,1170.073 L1459.7,1168.154 L1462.7,1166.233 L1465.7,1164.311 L1468.7,1162.390 L1471.7,1160.469 L1474.7,1158.549 L1477.7,1156.631 L1480.7,1154.716 L1483.7,1152.804 L1486.7,1150.896 L1489.7,1148.992 L1492.7,1147.094 L1495.7,1145.203 L1498.7,1143.317 L1501.7,1141.439 L1504.7,1139.570 L1507.7,1137.708 L1510.7,1135.857 L1513.7,1134.015 L1516.7,1132.184 L1519.7,1130.365 L1522.7,1128.557 L1525.7,1126.763 L1528.7,1124.982 L1531.7,1123.215 L1534.7,1121.463 L1537.7,1119.726 L1540.7,1118.006 L1543.7,1116.302 L1546.7,1114.616 L1549.7,1112.948 L1552.7,1111.299 L1555.7,1109.670 L1558.7,1108.061 L1561.7,1106.473 L1564.7,1104.906 L1567.7,1103.362 L1570.7,1101.840 L1573.7,1100.342 L1576.7,1098.869 L1579.7,1097.421 L1582.7,1095.998 L1585.7,1094.601 L1588.7,1093.232 L1591.7,1091.890 L1594.7,1090.577 L1597.7,1089.292 L1600.7,1088.038 L1603.8,1086.813" stroke-width="5.214"/><path d="M331.5,1212.092 L334.5,1212.873 L337.5,1213.639 L340.5,1214.390 L343.5,1215.128 L346.5,1215.853 L349.5,1216.564 L352.5,1217.263 L355.5,1217.949 L358.6,1218.624 L361.6,1219.286 L364.6,1219.938 L367.6,1220.578 L370.6,1221.208 L373.6,1221.827 L376.6,1222.437 L379.6,1223.037 L382.6,1223.628 L385.6,1224.210 L388.6,1224.784 L391.6,1225.349 L394.6,1225.907 L397.6,1226.458 L400.6,1227.001 L403.6,1227.538 L406.6,1228.068 L409.7,1228.593 L412.7,1229.112 L415.7,1229.625 L418.7,1230.134 L421.7,1230.638 L424.7,1231.138 L427.7,1231.636 L430.7,1232.133 L433.7,1232.630 L436.7,1233.128 L439.7,1233.629 L442.7,1234.133 L445.7,1234.643 L448.7,1235.159 L451.7,1235.682 L454.7,1236.214 L457.7,1236.756 L460.8,1237.309 L463.8,1237.875 L466.8,1238.455 L469.8,1239.049 L472.8,1239.660 L475.8,1240.289 L478.8,1240.936 L481.8,1241.603 L484.8,1242.291 L487.8,1243.002 L490.8,1243.736 L493.8,1244.496 L496.8,1245.281 L499.8,1246.091 L502.8,1246.920 L505.8,1247.765 L508.8,1248.620 L511.9,1249.482 L514.9,1250.346 L517.9,1251.209 L520.9,1252.065 L523.9,1252.911 L526.9,1253.749 L529.9,1254.577 L532.9,1255.398 L535.9,1256.210 L538.9,1257.014 L541.9,1257.811 L544.9,1258.601 L547.9,1259.384 L550.9,1260.161 L553.9,1260.931 L556.9,1261.696 L559.9,1262.456 L563.0,1263.210 L566.0,1263.960 L569.0,1264.705 L572.0,1265.447 L575.0,1266.184 L578.0,1266.918 L581.0,1267.650 L584.0,1268.378 L587.0,1269.105 L590.0,1269.829 L593.0,1270.552 L596.0,1271.273 L599.0,1271.993 L602.0,1272.713 L605.0,1273.432 L608.0,1274.152 L611.0,1274.872 L614.1,1275.592 L617.1,1276.314 L620.1,1277.037 L623.1,1277.762 L626.1,1278.489 L629.1,1279.218 L632.1,1279.950 L635.1,1280.685 L638.1,1281.424 L641.1,1282.167 L644.1,1282.913 L647.1,1283.664 L650.1,1284.420 L653.1,1285.181 L656.1,1285.947 L659.1,1286.720 L662.2,1287.498 L665.2,1288.283 L668.2,1289.075 L671.2,1289.874 L674.2,1290.680 L677.2,1291.494 L680.2,1292.313 L683.2,1293.140 L686.2,1293.972 L689.2,1294.810 L692.2,1295.653 L695.2,1296.501 L698.2,1297.354 L701.2,1298.212 L704.2,1299.073 L707.2,1299.939 L710.2,1300.808 L713.3,1301.680 L716.3,1302.554 L719.3,1303.432 L722.3,1304.311 L725.3,1305.193 L728.3,1306.076 L731.3,1306.960 L734.3,1307.846 L737.3,1308.732 L740.3,1309.618 L743.3,1310.504 L746.3,1311.390 L749.3,1312.275 L752.3,1313.160 L755.3,1314.043 L758.3,1314.925 L761.3,1315.804 L764.4,1316.682 L767.4,1317.557 L770.4,1318.429 L773.4,1319.297 L776.4,1320.163 L779.4,1321.025 L782.4,1321.882 L785.4,1322.735 L788.4,1323.584 L791.4,1324.428 L794.4,1325.266 L797.4,1326.100 L800.4,1326.927 L803.4,1327.749 L806.4,1328.565 L809.4,1329.375 L812.4,1330.178 L815.5,1330.975 L818.5,1331.764 L821.5,1332.546 L824.5,1333.321 L827.5,1334.088 L830.5,1334.847 L833.5,1335.598 L836.5,1336.341 L839.5,1337.074 L842.5,1337.799 L845.5,1338.515 L848.5,1339.222 L851.5,1339.918 L854.5,1340.605 L857.5,1341.282 L860.5,1341.949 L863.5,1342.605 L866.6,1343.250 L869.6,1343.884 L872.6,1344.507 L875.6,1345.118 L878.6,1345.718 L881.6,1346.305 L884.6,1346.880 L887.6,1347.443 L890.6,1347.993 L893.6,1348.530 L896.6,1349.054 L899.6,1349.565 L902.6,1350.061 L905.6,1350.544 L908.6,1351.013 L911.6,1351.467 L914.6,1351.907 L917.7,1352.332 L920.7,1352.742 L923.7,1353.136 L926.7,1353.515 L929.7,1353.878 L932.7,1354.225 L935.7,1354.555 L938.7,1354.869 L941.7,1355.167 L944.7,1355.447 L947.7,1355.710 L950.7,1355.955 L953.7,1356.183 L956.7,1356.393 L959.7,1356.585 L962.7,1356.760 L965.7,1356.917 L968.8,1357.059 L971.8,1357.185 L974.8,1357.295 L977.8,1357.390 L980.8,1357.472 L983.8,1357.539 L986.8,1357.592 L989.8,1357.633 L992.8,1357.661 L995.8,1357.678 L998.8,1357.683 L1001.8,1357.677 L1004.8,1357.660 L1007.8,1357.633 L1010.8,1357.597 L1013.8,1357.552 L1016.8,1357.498 L1019.9,1357.436 L1022.9,1357.367 L1025.9,1357.290 L1028.9,1357.207 L1031.9,1357.118 L1034.9,1357.023 L1037.9,1356.923 L1040.9,1356.818 L1043.9,1356.709 L1046.9,1356.596 L1049.9,1356.480 L1052.9,1356.362 L1055.9,1356.241 L1058.9,1356.118 L1061.9,1355.994 L1064.9,1355.870 L1067.9,1355.745 L1071.0,1355.620 L1074.0,1355.496 L1077.0,1355.373 L1080.0,1355.251 L1083.0,1355.132 L1086.0,1355.014 L1089.0,1354.897 L1092.0,1354.780 L1095.0,1354.662 L1098.0,1354.542 L1101.0,1354.421 L1104.0,1354.297 L1107.0,1354.170 L1110.0,1354.038 L1113.0,1353.901 L1116.0,1353.759 L1119.0,1353.611 L1122.1,1353.455 L1125.1,1353.292 L1128.1,1353.121 L1131.1,1352.940 L1134.1,1352.750 L1137.1,1352.549 L1140.1,1352.337 L1143.1,1352.114 L1146.1,1351.877 L1149.1,1351.628 L1152.1,1351.364 L1155.1,1351.086 L1158.1,1350.792 L1161.1,1350.482 L1164.1,1350.155 L1167.1,1349.812 L1170.1,1349.451 L1173.2,1349.075 L1176.2,1348.685 L1179.2,1348.283 L1182.2,1347.870 L1185.2,1347.447 L1188.2,1347.015 L1191.2,1346.577 L1194.2,1346.133 L1197.2,1345.686 L1200.2,1345.235 L1203.2,1344.784 L1206.2,1344.332 L1209.2,1343.882 L1212.2,1343.435 L1215.2,1342.992 L1218.2,1342.555 L1221.2,1342.126 L1224.3,1341.704 L1227.3,1341.293 L1230.3,1340.893 L1233.3,1340.506 L1236.3,1340.133 L1239.3,1339.775 L1242.3,1339.434 L1245.3,1339.109 L1248.3,1338.798 L1251.3,1338.498 L1254.3,1338.207 L1257.3,1337.923 L1260.3,1337.644 L1263.3,1337.368 L1266.3,1337.093 L1269.3,1336.816 L1272.3,1336.536 L1275.4,1336.250 L1278.4,1335.956 L1281.4,1335.652 L1284.4,1335.337 L1287.4,1335.006 L1290.4,1334.660 L1293.4,1334.295 L1296.4,1333.909 L1299.4,1333.501 L1302.4,1333.068 L1305.4,1332.607 L1308.4,1332.118 L1311.4,1331.597 L1314.4,1331.043 L1317.4,1330.453 L1320.4,1329.830 L1323.5,1329.175 L1326.5,1328.493 L1329.5,1327.784 L1332.5,1327.053 L1335.5,1326.301 L1338.5,1325.532 L1341.5,1324.747 L1344.5,1323.951 L1347.5,1323.145 L1350.5,1322.333 L1353.5,1321.516 L1356.5,1320.698 L1359.5,1319.882 L1362.5,1319.069 L1365.5,1318.263 L1368.5,1317.466 L1371.5,1316.679 L1374.6,1315.902 L1377.6,1315.136 L1380.6,1314.381 L1383.6,1313.638 L1386.6,1312.907 L1389.6,1312.189 L1392.6,1311.484 L1395.6,1310.794 L1398.6,1310.118 L1401.6,1309.457 L1404.6,1308.811 L1407.6,1308.182 L1410.6,1307.570 L1413.6,1306.974 L1416.6,1306.397 L1419.6,1305.838 L1422.6,1305.297 L1425.7,1304.776 L1428.7,1304.276 L1431.7,1303.795 L1434.7,1303.336 L1437.7,1302.898 L1440.7,1302.482 L1443.7,1302.088 L1446.7,1301.714 L1449.7,1301.358 L1452.7,1301.017 L1455.7,1300.690 L1458.7,1300.374 L1461.7,1300.067 L1464.7,1299.767 L1467.7,1299.472 L1470.7,1299.179 L1473.7,1298.886 L1476.8,1298.592 L1479.8,1298.294 L1482.8,1297.989 L1485.8,1297.677 L1488.8,1297.354 L1491.8,1297.018 L1494.8,1296.667 L1497.8,1296.300 L1500.8,1295.913 L1503.8,1295.505 L1506.8,1295.074 L1509.8,1294.617 L1512.8,1294.132 L1515.8,1293.618 L1518.8,1293.072 L1521.8,1292.496 L1524.8,1291.891 L1527.9,1291.259 L1530.9,1290.600 L1533.9,1289.916 L1536.9,1289.207 L1539.9,1288.475 L1542.9,1287.721 L1545.9,1286.947 L1548.9,1286.153 L1551.9,1285.340 L1554.9,1284.510 L1557.9,1283.664 L1560.9,1282.803 L1563.9,1281.928 L1566.9,1281.040 L1569.9,1280.140 L1572.9,1279.231 L1575.9,1278.312 L1579.0,1277.385 L1582.0,1276.451 L1585.0,1275.511 L1588.0,1274.567 L1591.0,1273.619 L1594.0,1272.669 L1597.0,1271.718 L1600.0,1270.767 L1603.0,1269.817" stroke-width="5.214"/><path d="M331.5,1144.280 L333.5,1144.520 L335.5,1144.791 L337.5,1145.091 L339.5,1145.418 L341.5,1145.770 L343.5,1146.145 L345.5,1146.540 L347.5,1146.954 L349.5,1147.384 L351.5,1147.829 L353.5,1148.286 L355.5,1148.754 L357.5,1149.229 L359.5,1149.710 L361.5,1150.196 L362.6,1150.458 M377.4,1153.942 L378.5,1154.181 L380.5,1154.600 L382.5,1155.005 L384.5,1155.397 L386.5,1155.776 L388.5,1156.143 L390.5,1156.499 L392.5,1156.845 L394.5,1157.181 L396.5,1157.508 L398.5,1157.826 L400.5,1158.137 L402.5,1158.441 L404.5,1158.738 L406.5,1159.029 L408.5,1159.316 L410.5,1159.599 L412.5,1159.877 L414.5,1160.153 L416.5,1160.427 L418.5,1160.700 L420.5,1160.971 L422.5,1161.243 L424.5,1161.515 L426.5,1161.788 L427.1,1161.876 M442.5,1164.016 L443.5,1164.162 L445.5,1164.441 L447.5,1164.717 L449.5,1164.991 L451.5,1165.263 L453.5,1165.531 L455.5,1165.796 L457.5,1166.057 L459.5,1166.313 L461.5,1166.563 L463.5,1166.809 L465.5,1167.048 L467.5,1167.281 L469.5,1167.508 L471.5,1167.726 L473.5,1167.938 L475.5,1168.140 L477.5,1168.334 L479.5,1168.519 L481.5,1168.695 L483.5,1168.860 L485.5,1169.014 L487.5,1169.158 L489.5,1169.290 L491.5,1169.410 L492.8,1169.484 M508.4,1169.885 L509.5,1169.880 L511.5,1169.859 L513.5,1169.826 L515.5,1169.786 L517.5,1169.739 L519.5,1169.688 L521.5,1169.637 L523.5,1169.586 L525.5,1169.540 L527.5,1169.500 L529.5,1169.468 L531.5,1169.448 L533.5,1169.442 L535.5,1169.452 L537.5,1169.480 L539.5,1169.530 L541.5,1169.604 L543.5,1169.703 L545.5,1169.832 L547.5,1169.991 L549.5,1170.185 L551.5,1170.414 L553.5,1170.682 L555.5,1170.991 L557.5,1171.344 L559.1,1171.669 M573.7,1175.691 L575.5,1176.304 L577.5,1176.995 L579.5,1177.706 L581.5,1178.434 L583.5,1179.180 L585.5,1179.942 L587.5,1180.718 L589.5,1181.509 L591.5,1182.312 L593.5,1183.127 L595.5,1183.952 L597.5,1184.787 L599.5,1185.630 L601.5,1186.480 L603.5,1187.337 L605.5,1188.199 L607.5,1189.065 L609.5,1189.933 L611.5,1190.804 L613.5,1191.676 L615.5,1192.547 L617.5,1193.417 L618.0,1193.642 M631.6,1199.161 L633.5,1199.827 L635.5,1200.469 L637.5,1201.067 L639.5,1201.623 L641.5,1202.140 L643.5,1202.621 L645.5,1203.068 L647.5,1203.485 L649.5,1203.874 L651.5,1204.238 L653.5,1204.579 L655.5,1204.900 L657.5,1205.205 L659.5,1205.496 L661.5,1205.775 L663.5,1206.045 L665.5,1206.310 L667.5,1206.572 L669.5,1206.833 L671.5,1207.096 L673.5,1207.365 L675.5,1207.642 L677.5,1207.930 L679.5,1208.230 L680.7,1208.420 M695.7,1211.502 L697.5,1211.998 L699.5,1212.582 L701.5,1213.203 L703.5,1213.857 L705.5,1214.545 L707.5,1215.263 L709.5,1216.011 L711.5,1216.786 L713.5,1217.586 L715.5,1218.409 L717.5,1219.255 L719.5,1220.121 L721.5,1221.004 L723.5,1221.904 L725.5,1222.819 L727.5,1223.746 L729.5,1224.684 L731.5,1225.631 L733.5,1226.586 L735.5,1227.545 L737.5,1228.509 L739.5,1229.474 L739.8,1229.616 M752.7,1235.848 L754.5,1236.703 L756.5,1237.665 L758.5,1238.626 L760.5,1239.588 L762.5,1240.549 L764.5,1241.510 L766.5,1242.470 L768.5,1243.430 L770.5,1244.390 L772.5,1245.350 L774.5,1246.309 L776.5,1247.269 L778.5,1248.228 L780.5,1249.187 L782.5,1250.145 L784.5,1251.104 L786.5,1252.063 L788.5,1253.021 L790.5,1253.979 L792.5,1254.938 L794.5,1255.896 L795.1,1256.163 M808.0,1262.370 L809.5,1263.082 L811.5,1264.039 L813.5,1264.993 L815.5,1265.941 L817.5,1266.881 L819.5,1267.809 L821.5,1268.724 L823.5,1269.623 L825.5,1270.503 L827.5,1271.362 L829.5,1272.197 L831.5,1273.007 L833.5,1273.787 L835.5,1274.536 L837.5,1275.251 L839.5,1275.930 L841.5,1276.570 L843.5,1277.168 L845.5,1277.723 L847.5,1278.231 L849.5,1278.690 L851.5,1279.097 L852.8,1279.339 M868.3,1280.795 L869.5,1280.847 L871.5,1280.923 L873.5,1280.990 L875.5,1281.048 L877.5,1281.098 L879.5,1281.140 L881.5,1281.174 L883.5,1281.203 L885.5,1281.225 L887.5,1281.243 L889.5,1281.256 L891.5,1281.265 L893.5,1281.271 L895.5,1281.274 L897.5,1281.275 L899.5,1281.276 L901.5,1281.275 L903.5,1281.274 L905.5,1281.275 L907.5,1281.276 L909.5,1281.279 L911.5,1281.285 L913.5,1281.294 L915.5,1281.307 L917.5,1281.325 L919.3,1281.345 M934.9,1281.731 L936.5,1281.795 L938.5,1281.881 L940.5,1281.974 L942.5,1282.075 L944.5,1282.185 L946.5,1282.302 L948.5,1282.428 L950.5,1282.562 L952.5,1282.705 L954.5,1282.857 L956.5,1283.017 L958.5,1283.187 L960.5,1283.367 L962.5,1283.556 L964.5,1283.755 L966.5,1283.964 L968.5,1284.183 L970.5,1284.412 L972.5,1284.652 L974.5,1284.902 L976.5,1285.164 L978.5,1285.436 L980.5,1285.720 L982.5,1286.015 L984.5,1286.321 L985.4,1286.459 M1000.5,1289.160 L1002.5,1289.554 L1004.5,1289.957 L1006.5,1290.366 L1008.5,1290.781 L1010.5,1291.203 L1012.5,1291.629 L1014.5,1292.061 L1016.5,1292.496 L1018.5,1292.935 L1020.5,1293.378 L1022.5,1293.823 L1024.5,1294.270 L1026.5,1294.719 L1028.5,1295.169 L1030.5,1295.619 L1032.5,1296.070 L1034.5,1296.520 L1036.5,1296.969 L1038.5,1297.417 L1040.5,1297.862 L1042.5,1298.305 L1044.5,1298.746 L1046.5,1299.182 L1048.5,1299.615 L1049.3,1299.784 M1064.3,1302.829 L1065.5,1303.055 L1067.5,1303.424 L1069.5,1303.783 L1071.5,1304.134 L1073.5,1304.475 L1075.5,1304.808 L1077.5,1305.131 L1079.5,1305.445 L1081.5,1305.749 L1083.5,1306.044 L1085.5,1306.329 L1087.5,1306.605 L1089.5,1306.871 L1091.5,1307.127 L1093.5,1307.374 L1095.5,1307.610 L1097.5,1307.837 L1099.5,1308.053 L1101.5,1308.259 L1103.5,1308.455 L1105.5,1308.641 L1107.5,1308.816 L1109.5,1308.981 L1111.5,1309.135 L1113.5,1309.278 L1114.4,1309.340 M1130.0,1310.045 L1131.5,1310.078 L1133.5,1310.111 L1135.5,1310.132 L1137.5,1310.142 L1139.5,1310.140 L1141.5,1310.126 L1143.5,1310.101 L1145.5,1310.063 L1147.5,1310.014 L1149.5,1309.953 L1151.5,1309.879 L1153.5,1309.793 L1155.5,1309.695 L1157.5,1309.585 L1159.5,1309.462 L1161.5,1309.326 L1163.5,1309.178 L1165.5,1309.018 L1167.5,1308.844 L1169.5,1308.658 L1171.5,1308.459 L1173.5,1308.247 L1175.5,1308.022 L1177.5,1307.783 L1179.5,1307.532 L1180.7,1307.369 M1196.0,1305.020 L1197.5,1304.760 L1199.5,1304.410 L1201.5,1304.056 L1203.5,1303.696 L1205.5,1303.333 L1207.5,1302.968 L1209.5,1302.600 L1211.5,1302.231 L1213.5,1301.861 L1215.5,1301.493 L1217.5,1301.125 L1219.5,1300.760 L1221.5,1300.397 L1223.5,1300.038 L1225.5,1299.684 L1227.5,1299.335 L1229.5,1298.993 L1231.5,1298.657 L1233.5,1298.329 L1235.5,1298.011 L1237.5,1297.701 L1239.5,1297.402 L1241.5,1297.114 L1243.5,1296.838 L1245.5,1296.575 L1245.6,1296.564 M1261.0,1295.059 L1262.5,1294.972 L1264.5,1294.872 L1266.5,1294.791 L1268.5,1294.729 L1270.5,1294.681 L1272.5,1294.647 L1274.5,1294.622 L1276.5,1294.605 L1278.5,1294.594 L1280.5,1294.585 L1282.5,1294.576 L1284.5,1294.565 L1286.5,1294.550 L1288.5,1294.526 L1290.5,1294.494 L1292.5,1294.448 L1294.5,1294.388 L1296.5,1294.311 L1298.5,1294.214 L1300.5,1294.095 L1302.5,1293.950 L1304.5,1293.779 L1306.5,1293.577 L1308.5,1293.344 L1310.5,1293.075 L1311.9,1292.870 M1326.8,1289.644 L1328.5,1289.194 L1330.5,1288.658 L1332.5,1288.113 L1334.5,1287.559 L1336.5,1286.996 L1338.5,1286.425 L1340.5,1285.846 L1342.5,1285.259 L1344.5,1284.664 L1346.5,1284.061 L1348.5,1283.451 L1350.5,1282.833 L1352.5,1282.208 L1354.5,1281.577 L1356.5,1280.938 L1358.5,1280.293 L1360.5,1279.641 L1362.5,1278.983 L1364.5,1278.318 L1366.5,1277.648 L1368.5,1276.972 L1370.5,1276.290 L1372.5,1275.603 L1373.6,1275.225 M1387.6,1270.269 L1389.5,1269.566 L1391.5,1268.836 L1393.5,1268.102 L1395.5,1267.364 L1397.5,1266.624 L1399.5,1265.880 L1401.5,1265.133 L1403.5,1264.383 L1405.5,1263.630 L1407.5,1262.876 L1409.5,1262.119 L1411.5,1261.359 L1413.5,1260.598 L1415.5,1259.835 L1417.5,1259.071 L1419.5,1258.305 L1421.5,1257.538 L1423.5,1256.770 L1425.5,1256.001 L1427.5,1255.231 L1429.5,1254.460 L1431.5,1253.690 L1432.7,1253.245 M1446.4,1247.958 L1447.5,1247.530 L1449.5,1246.764 L1451.5,1245.999 L1453.5,1245.235 L1455.5,1244.473 L1457.5,1243.713 L1459.5,1242.955 L1461.5,1242.199 L1463.5,1241.446 L1465.5,1240.695 L1467.5,1239.947 L1469.5,1239.201 L1471.5,1238.459 L1473.5,1237.720 L1475.5,1236.985 L1477.5,1236.253 L1479.5,1235.524 L1481.5,1234.800 L1483.5,1234.080 L1485.5,1233.364 L1487.5,1232.652 L1489.5,1231.945 L1491.5,1231.243 L1491.7,1231.188 M1505.7,1226.390 L1507.5,1225.808 L1509.5,1225.152 L1511.5,1224.501 L1513.5,1223.855 L1515.5,1223.215 L1517.5,1222.580 L1519.5,1221.950 L1521.5,1221.326 L1523.5,1220.707 L1525.5,1220.093 L1527.5,1219.485 L1529.5,1218.883 L1531.5,1218.286 L1533.5,1217.694 L1535.5,1217.108 L1537.5,1216.528 L1539.5,1215.953 L1541.5,1215.384 L1543.5,1214.820 L1545.5,1214.262 L1547.5,1213.710 L1549.5,1213.163 L1551.5,1212.622 L1552.7,1212.288 M1567.4,1208.523 L1568.5,1208.261 L1570.5,1207.775 L1572.5,1207.296 L1574.5,1206.823 L1576.5,1206.356 L1578.5,1205.895 L1580.5,1205.440 L1582.5,1204.992 L1584.5,1204.549 L1586.5,1204.112 L1588.5,1203.682 L1590.5,1203.258 L1592.5,1202.840 L1594.5,1202.429 L1596.5,1202.023 L1598.5,1201.624 L1599.5,1201.427" stroke-width="5.214"/></g>
<path d="M331.60,1319.00 V2200.50 H1857.20" stroke="#000" stroke-width="7.50" fill="none" stroke-linejoin="miter"/>
<path d="M331.60,1287.30 L322.20,1320.00 L341.00,1320.00 Z" fill="#000"/>
<path d="M1888.80,2200.50 L1856.20,2191.10 L1856.20,2209.90 Z" fill="#000"/>
</g>
<text transform="translate(22.18,87.00) scale(0.8723,1.0000)" font-size="94.20" word-spacing="0.00" xml:space="preserve">Y1</text>
<text transform="translate(148.09,116.54) scale(1.0670,1.0000)" font-size="66.22" word-spacing="0.00" xml:space="preserve">400</text>
<text transform="translate(147.43,319.13) scale(1.0606,1.0000)" font-size="67.41" word-spacing="0.00" xml:space="preserve">300</text>
<text transform="translate(147.79,520.58) scale(1.0686,1.0000)" font-size="66.67" word-spacing="0.00" xml:space="preserve">200</text>
<text transform="translate(144.63,723.08) scale(1.1031,1.0000)" font-size="66.67" word-spacing="0.00" xml:space="preserve">100</text>
<text transform="translate(219.14,925.58) scale(1.0714,1.0000)" font-size="66.67" word-spacing="0.00" xml:space="preserve">0</text>
<text transform="translate(259.66,990.58) scale(1.0991,1.0000)" font-size="66.67" word-spacing="0.00" xml:space="preserve">10</text>
<text transform="translate(1021.38,989.84) scale(1.1093,1.0000)" font-size="66.30" word-spacing="0.00" xml:space="preserve">100</text>
<text transform="translate(1777.34,989.84) scale(1.0796,1.0000)" font-size="65.93" word-spacing="-1.98" xml:space="preserve">1 000</text>
<text transform="translate(1876.00,1095.00) scale(0.7940,1.0000)" font-size="94.23" word-spacing="0.00" xml:space="preserve">X</text>
<text transform="translate(67.20,1346.25) scale(0.8762,1.0000)" font-size="90.91" word-spacing="0.00" xml:space="preserve">Y2</text>
<text transform="translate(221.22,1375.60) scale(1.0452,1.0000)" font-size="64.81" word-spacing="0.00" xml:space="preserve">90</text>
<text transform="translate(220.15,1516.85) scale(1.0623,1.0000)" font-size="64.81" word-spacing="0.00" xml:space="preserve">60</text>
<text transform="translate(220.58,1657.56) scale(1.0615,1.0000)" font-size="64.44" word-spacing="0.00" xml:space="preserve">30</text>
<text transform="translate(256.13,1798.60) scale(1.0102,1.0000)" font-size="64.81" word-spacing="0.00" xml:space="preserve">0</text>
<text transform="translate(198.89,1940.06) scale(1.0468,1.0000)" font-size="64.44" word-spacing="0.00" xml:space="preserve">-30</text>
<text transform="translate(198.89,2081.46) scale(1.0468,1.0000)" font-size="64.44" word-spacing="0.00" xml:space="preserve">-60</text>
<text transform="translate(198.86,2222.36) scale(1.0585,1.0000)" font-size="64.44" word-spacing="0.00" xml:space="preserve">-90</text>
<text transform="translate(293.53,2284.86) scale(1.1147,1.0000)" font-size="64.44" word-spacing="0.00" xml:space="preserve">10</text>
<text transform="translate(1023.68,2284.66) scale(1.0952,1.0000)" font-size="64.15" word-spacing="0.00" xml:space="preserve">100</text>
<text transform="translate(1745.84,2284.86) scale(1.0691,1.0000)" font-size="64.00" word-spacing="-1.92" xml:space="preserve">1 000</text>
<text transform="translate(1839.84,2384.50) scale(0.7760,1.0000)" font-size="90.77" word-spacing="0.00" xml:space="preserve">X</text>
</g>
<text transform="translate(924.45,1218.85) scale(0.9679,1.0000)" font-size="76.89" word-spacing="0.00" xml:space="preserve"><tspan font-weight="normal">(</tspan><tspan font-weight="bold">a</tspan><tspan font-weight="normal">)</tspan></text>
<text transform="translate(920.51,2502.05) scale(1.0072,1.0000)" font-size="76.89" word-spacing="0.00" xml:space="preserve"><tspan font-weight="normal">(</tspan><tspan font-weight="bold">b</tspan><tspan font-weight="normal">)</tspan></text>
</svg></body></html>
